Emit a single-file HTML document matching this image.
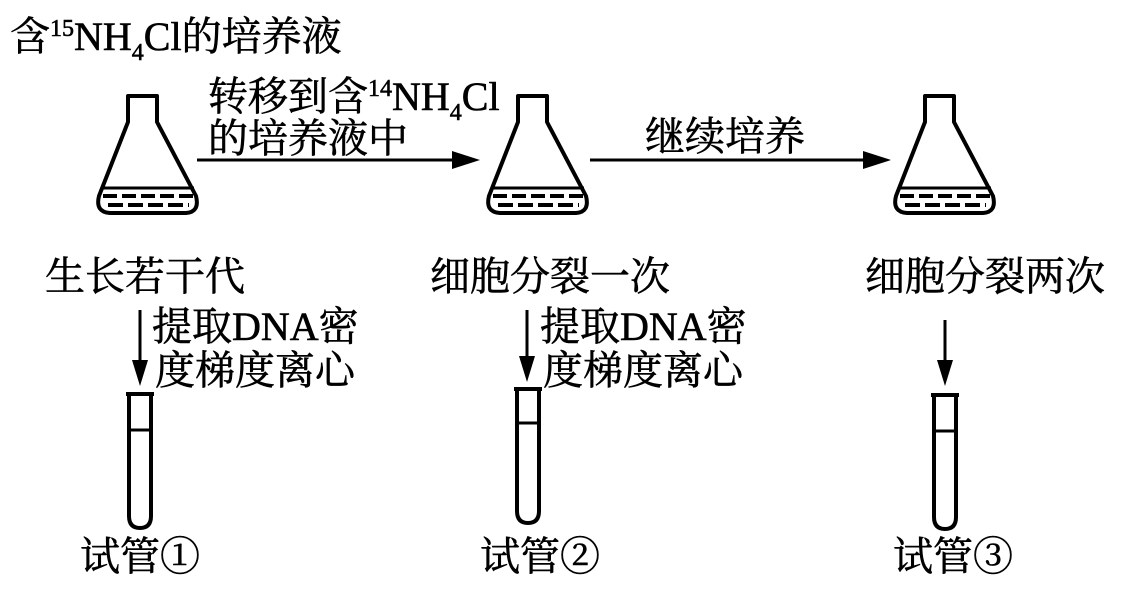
<!DOCTYPE html>
<html><head><meta charset="utf-8"><style>
html,body{margin:0;padding:0;background:#fff}
svg text{font-family:"Liberation Serif","Noto Serif CJK SC","Noto Sans CJK SC",serif;fill:#000;stroke:#000;stroke-width:0.6}
</style></head><body>
<svg width="1124" height="588" viewBox="0 0 1124 588" xmlns="http://www.w3.org/2000/svg">
<defs>
<g id="flask">
<path d="M128,96 L157,96 L157,122 L196,196 Q200,212 186,213 L110,213 Q95,212 99,196 L128,122 Z" fill="none" stroke="#000" stroke-width="4" stroke-linejoin="round"/>
<line x1="101" y1="188" x2="194" y2="188" stroke="#000" stroke-width="3"/>
<line x1="103" y1="196" x2="194" y2="196" stroke="#000" stroke-width="4" stroke-dasharray="14,5"/>
<line x1="108" y1="205" x2="189" y2="205" stroke="#000" stroke-width="4" stroke-dasharray="15,5"/>
</g>
<g id="tube">
<path d="M0,0 L28,0 M3,0 L3,122 Q3,134 14,134 Q25,134 25,122 L25,0" fill="none" stroke="#000" stroke-width="4"/>
</g>
</defs>
<use href="#flask"/>
<use href="#flask" transform="translate(390,0)"/>
<use href="#flask" transform="translate(797,0)"/>

<line x1="197" y1="160" x2="455" y2="160" stroke="#000" stroke-width="3"/>
<path d="M452,151 L480,160 L452,169 Z"/>
<line x1="590" y1="160" x2="866" y2="160" stroke="#000" stroke-width="3"/>
<path d="M863,151 L891,160 L863,169 Z"/>

<line x1="140" y1="310" x2="140" y2="362" stroke="#000" stroke-width="3"/>
<path d="M132,360 L140,386 L148,360 Z"/>
<line x1="527" y1="310" x2="527" y2="358" stroke="#000" stroke-width="3"/>
<path d="M519,356 L527,382 L535,356 Z"/>
<line x1="945" y1="320" x2="945" y2="362" stroke="#000" stroke-width="3"/>
<path d="M937,360 L945,386 L953,360 Z"/>

<use href="#tube" transform="translate(126,394)"/>
<line x1="128" y1="430" x2="152" y2="430" stroke="#000" stroke-width="3"/>
<use href="#tube" transform="translate(514,389)"/>
<line x1="516" y1="423" x2="540" y2="423" stroke="#000" stroke-width="3"/>
<use href="#tube" transform="translate(931,395)"/>
<line x1="933" y1="431" x2="957" y2="431" stroke="#000" stroke-width="3"/>

<text x="10" y="50" font-size="40">含<tspan font-size="24" dy="-14">15</tspan><tspan dy="14">NH</tspan><tspan font-size="24" dy="10">4</tspan><tspan dy="-10">Cl的培养液</tspan></text>
<text x="208" y="110" font-size="40">转移到含<tspan font-size="24" dy="-14">14</tspan><tspan dy="14">NH</tspan><tspan font-size="24" dy="10">4</tspan><tspan dy="-10">Cl</tspan></text>
<text x="208" y="152" font-size="40">的培养液中</text>
<text x="645" y="150" font-size="40">继续培养</text>
<text x="45" y="290" font-size="40">生长若干代</text>
<text x="430" y="290" font-size="40">细胞分裂一次</text>
<text x="865" y="290" font-size="40">细胞分裂两次</text>
<text x="152" y="340" font-size="40">提取DNA密</text>
<text x="155" y="384" font-size="40">度梯度离心</text>
<text x="540" y="340" font-size="40">提取DNA密</text>
<text x="543" y="384" font-size="40">度梯度离心</text>
<text x="80" y="570" font-size="40">试管①</text>
<text x="480" y="570" font-size="40">试管②</text>
<text x="893" y="570" font-size="40">试管③</text>
</svg>
</body></html>
